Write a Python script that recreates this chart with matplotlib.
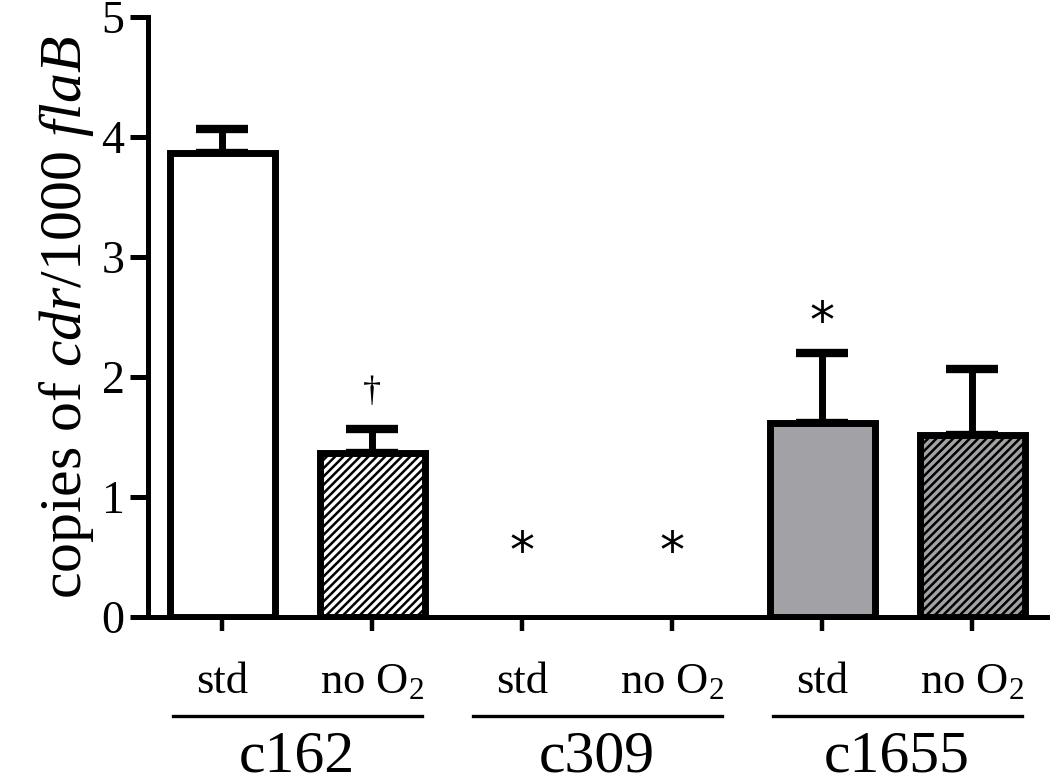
import numpy as np
import matplotlib
matplotlib.use('Agg')
import matplotlib.pyplot as plt
import matplotlib.transforms as mtransforms

plt.rcParams['font.family'] = 'Liberation Serif'
plt.rcParams['mathtext.fontset'] = 'custom'
plt.rcParams['mathtext.rm'] = 'Liberation Serif'
plt.rcParams['mathtext.it'] = 'Liberation Serif:italic'
plt.rcParams['hatch.linewidth'] = 1.8

conditions = ['std', 'no O$_2$', 'std', 'no O$_2$', 'std', 'no O$_2$']
strains = ['c162', 'c309', 'c1655']
values = [3.87, 1.37, 0.0, 0.0, 1.62, 1.52]
errors = [0.20, 0.20, 0.0, 0.0, 0.58, 0.55]
fills = ['white', 'white', 'white', 'white', '#a2a2a6', '#a2a2a6']
hatches = ['', '////', '', '////', '', '////']
marks = ['', '\u2020', '*', '*', '*', '']
mark_y = [0, 1.87, 0.53, 0.53, 2.45, 0]

x = np.arange(len(values))

fig = plt.figure(figsize=(10.5, 7.84), dpi=100)
ax = fig.add_axes([0.141, 0.213, 0.859, 0.765])

lw = [5 if v > 0 else 0 for v in values]
bars = ax.bar(x, values, width=0.7, color=fills, edgecolor='black', linewidth=lw, zorder=3)
for b, h in zip(bars, hatches):
    b.set_hatch(h)

for xi, v, e in zip(x, values, errors):
    if v > 0:
        ax.errorbar(xi, v, yerr=[[0], [e]], fmt='none', ecolor='black',
                    elinewidth=5, capsize=19, capthick=6, zorder=2)

for xi, m, my in zip(x, marks, mark_y):
    if m == '*':
        ax.text(xi, my, m, ha='center', va='center', fontsize=36, family='DejaVu Sans')
    elif m:
        ax.text(xi, my, m, ha='center', va='center', fontsize=26)

ax.set_xlim(-0.493, 5.52)
ax.set_ylim(0, 5)
ax.set_yticks([0, 1, 2, 3, 4, 5])
ax.spines['top'].set_visible(False)
ax.spines['right'].set_visible(False)
ax.spines['left'].set_linewidth(3.6)
ax.spines['bottom'].set_linewidth(3.6)
ax.tick_params(axis='y', length=13, width=3.6, labelsize=33, pad=4)
ax.tick_params(axis='x', length=10, width=3.2, labelsize=0)
ax.set_xticks(x)
ax.set_xticklabels([])

ax.set_ylabel('copies of $\\it{cdr}$/1000 $\\it{flaB}$', fontsize=43, labelpad=4)

trans = mtransforms.blended_transform_factory(ax.transData, ax.transAxes)
for xi, c in zip(x, conditions):
    ax.text(xi, -0.108, c, transform=trans, ha='center', va='center', fontsize=32)
for i, s in enumerate(strains):
    cx = 2 * i + 0.5
    ax.plot([cx - 0.83, cx + 0.83], [-0.165, -0.165], transform=trans, color='black',
            lw=2.4, clip_on=False)
    ax.text(cx, -0.235, s, transform=trans, ha='center', va='center', fontsize=43)

fig.savefig('out.png', dpi=100)
